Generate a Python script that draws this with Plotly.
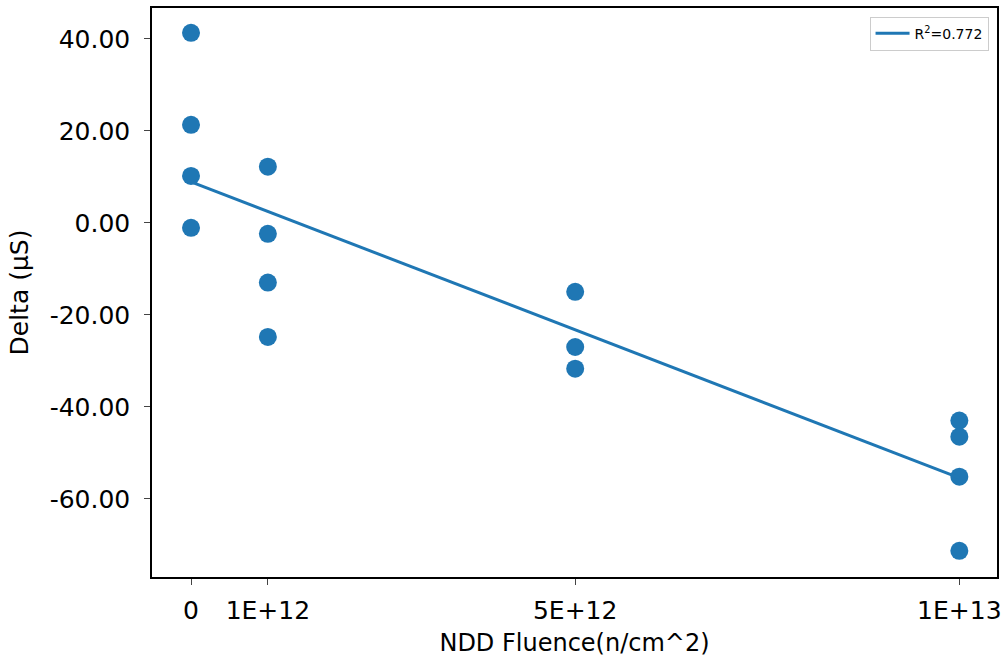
import numpy as np
import plotly.graph_objects as go

fluence = [0, 0, 0, 0, 1e12, 1e12, 1e12, 1e12, 5e12, 5e12, 5e12, 1e13, 1e13, 1e13, 1e13]
delta = [41.3, 21.3, 10.2, -1.1, 12.2, -2.4, -13.0, -24.8, -15.0, -27.0, -31.7, -43.0, -46.5, -55.2, -71.3]
tick_vals = [0, 1e12, 5e12, 1e13]
tick_text = ["0", "1E+12", "5E+12", "1E+13"]
y_ticks = [40, 20, 0, -20, -40, -60]
y_tick_text = ["%.2f" % v for v in y_ticks]
r2_label = "R<sup>2</sup>=0.772"

x = np.array(fluence)
y = np.array(delta)
slope, intercept = np.polyfit(x, y, 1)
xl = np.array([min(fluence), max(fluence)])
yl = slope * xl + intercept

color = "#1f77b4"
fig = go.Figure()
fig.add_trace(go.Scatter(x=fluence, y=delta, mode="markers",
                         marker=dict(color=color, size=18, line=dict(width=0)),
                         showlegend=False, cliponaxis=False))
fig.add_trace(go.Scatter(x=xl, y=yl, mode="lines", line=dict(color=color, width=3),
                         name=r2_label))

fig.update_layout(
    width=1005, height=657,
    margin=dict(l=152, r=8, t=8, b=80, autoexpand=False),
    paper_bgcolor="white", plot_bgcolor="white",
    font=dict(family="DejaVu Sans", size=25, color="black"),
    showlegend=True,
    legend=dict(x=0.99, y=0.985, xanchor="right", yanchor="top",
                bordercolor="#cccccc", borderwidth=1, bgcolor="white",
                font=dict(size=14), itemwidth=34),
    xaxis=dict(range=[-0.508e12, 10.49e12], tickvals=tick_vals, ticktext=tick_text,
               automargin=False,
               showgrid=False, zeroline=False, showline=True, linecolor="black",
               linewidth=1.5, mirror=True, ticks="outside", ticklen=6, tickwidth=1.3,
               ticklabelstandoff=4,
               tickfont=dict(size=25),
               title=dict(text="NDD Fluence(n/cm^2)", standoff=10, font=dict(size=24))),
    yaxis=dict(range=[-77.0, 46.7], tickvals=y_ticks, ticktext=y_tick_text,
               automargin=False,
               showgrid=False, zeroline=False, showline=True, linecolor="black",
               linewidth=1.5, mirror=True, ticks="outside", ticklen=6, tickwidth=1.3,
               ticklabelstandoff=9,
               tickfont=dict(size=25),
               title=dict(text="Delta (µS)", standoff=14, font=dict(size=25))),
)
fig.write_html("out.html", config={"displayModeBar": False},
               post_script="document.body.style.margin='0';")
